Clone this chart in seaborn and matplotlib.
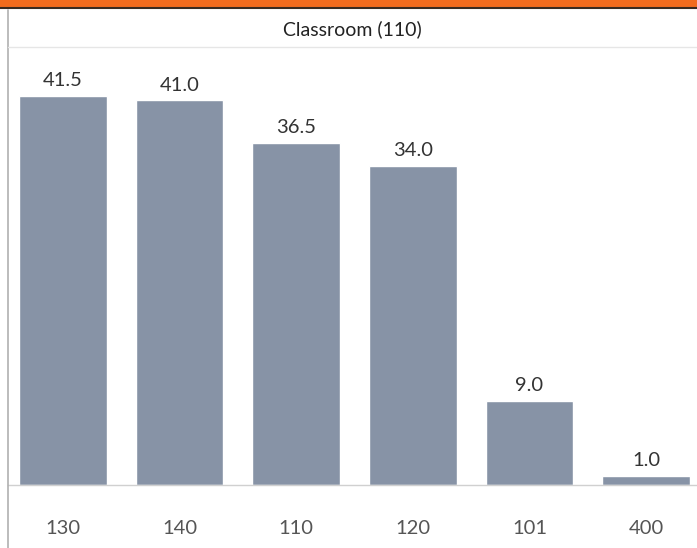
import matplotlib
matplotlib.use("Agg")
import matplotlib.pyplot as plt
import seaborn as sns
import pandas as pd
from matplotlib.patches import Rectangle
from matplotlib.lines import Line2D

# data
rooms = ["130", "140", "110", "120", "101", "400"]
values = [41.5, 41.0, 36.5, 34.0, 9.0, 1.0]
title = "Classroom (110)"

df = pd.DataFrame({"room": rooms, "value": values})

sns.set_theme(style="white")
plt.rcParams["font.family"] = ["Lato", "DejaVu Sans"]

fig = plt.figure(figsize=(6.97, 5.48), dpi=100)
W, H = 697, 548

# axes placed in pixel terms
ax_left, ax_right = 8, 697
ax_bottom, ax_top = 485, 47
ax = fig.add_axes([ax_left / W, (H - ax_bottom) / H,
                   (ax_right - ax_left) / W, (ax_bottom - ax_top) / H])

sns.barplot(data=df, x="room", y="value", order=rooms, color="#8793a6",
            width=0.75, saturation=1, ax=ax)

ax.set_xlim(-0.4717, 5.437)
ax.set_ylim(0, 46.7)
ax.bar_label(ax.containers[0], fmt="%.1f", padding=5, fontsize=14.5, color="#333333")

ax.set_xlabel("")
ax.set_ylabel("")
ax.set_yticks([])
ax.tick_params(axis="x", length=0, pad=25, labelsize=14.5, labelcolor="#555555")
for s in ["top", "right", "left"]:
    ax.spines[s].set_visible(False)
ax.spines["bottom"].set_color("#d0d0d0")
ax.spines["bottom"].set_linewidth(1)

# orange band at top (cut-off header)
fig.patches.append(Rectangle((0, 1 - 7 / H), 1, 7 / H, transform=fig.transFigure,
                             facecolor="#f26b1d", edgecolor="none", zorder=5))
fig.lines.append(Line2D([0, 1], [1 - 7.5 / H, 1 - 7.5 / H], transform=fig.transFigure,
                        color="#3a2a20", linewidth=1.5, zorder=6))

# left border line
fig.lines.append(Line2D([8 / W, 8 / W], [0, 1 - 10 / H], transform=fig.transFigure,
                        color="#b0b0b0", linewidth=1.2))

# header separator
fig.lines.append(Line2D([8 / W, 1], [1 - 47 / H, 1 - 47 / H], transform=fig.transFigure,
                        color="#e6e6e6", linewidth=1))

fig.text((8 + 697) / 2 / W, 1 - 29 / H, title, ha="center", va="center",
         fontsize=14, color="#222222")

fig.savefig("out.png", dpi=100)
